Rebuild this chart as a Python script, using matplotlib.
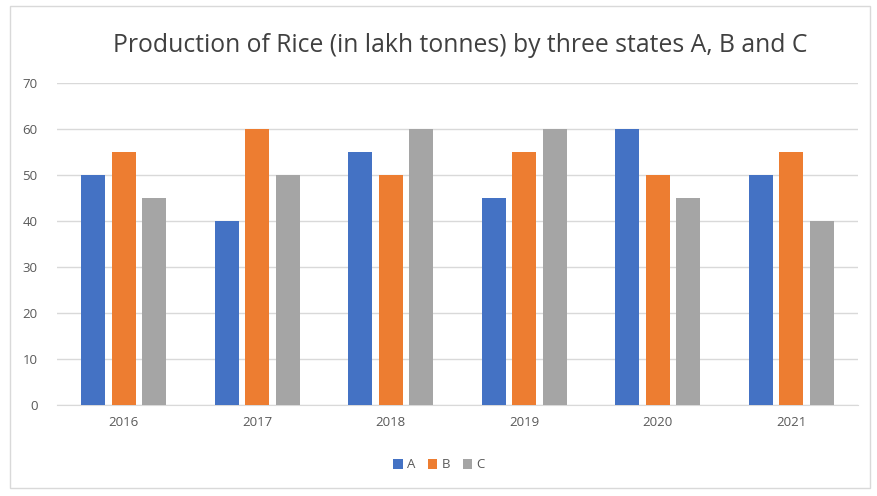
import matplotlib.pyplot as plt
from matplotlib.patches import Rectangle
import numpy as np

years = ['2016', '2017', '2018', '2019', '2020', '2021']
state_a = [50, 40, 55, 45, 60, 50]
state_b = [55, 60, 50, 55, 50, 55]
state_c = [45, 50, 60, 60, 45, 40]

plt.rcParams['font.family'] = ['Open Sans', 'DejaVu Sans']

fig = plt.figure(figsize=(8.78, 4.96), dpi=100)
fig.patches.append(Rectangle((10/878, 8/496), 860/878, 482/496, transform=fig.transFigure,
                             fill=False, edgecolor='#d9d9d9', linewidth=1))
ax = fig.add_axes([57/878, 1 - 405/496, 801/878, 322/496])

x = np.arange(len(years))
w = 0.18
step = 0.227
ax.bar(x - step, state_a, w, color='#4472C4', label='A', zorder=3)
ax.bar(x, state_b, w, color='#ED7D31', label='B', zorder=3)
ax.bar(x + step, state_c, w, color='#A5A5A5', label='C', zorder=3)

ax.set_xlim(-0.5, len(years) - 0.5)
ax.set_ylim(0, 70)
ax.set_yticks(range(0, 71, 10))
ax.set_xticks(x)
ax.set_xticklabels(years)
ax.yaxis.grid(True, color='#d9d9d9', linewidth=1, zorder=0)
for s in ['top', 'right', 'left']:
    ax.spines[s].set_visible(False)
ax.spines['bottom'].set_color('#d9d9d9')
ax.tick_params(length=0, colors='#595959', labelsize=9.5)
ax.tick_params(axis='x', pad=8)
ax.tick_params(axis='y', pad=14)

fig.text(460/878, 1 - 46/496, 'Production of Rice (in lakh tonnes) by three states A, B and C',
         ha='center', va='center', fontsize=17.8, color='#404040')
fig.legend(loc='center', bbox_to_anchor=(0.5, 1 - 465/496), ncol=3, frameon=False,
           fontsize=9.5, handlelength=0.7, handleheight=0.7, handletextpad=0.3,
           columnspacing=1.0, labelcolor='#595959')

fig.savefig('out.png', dpi=100)
